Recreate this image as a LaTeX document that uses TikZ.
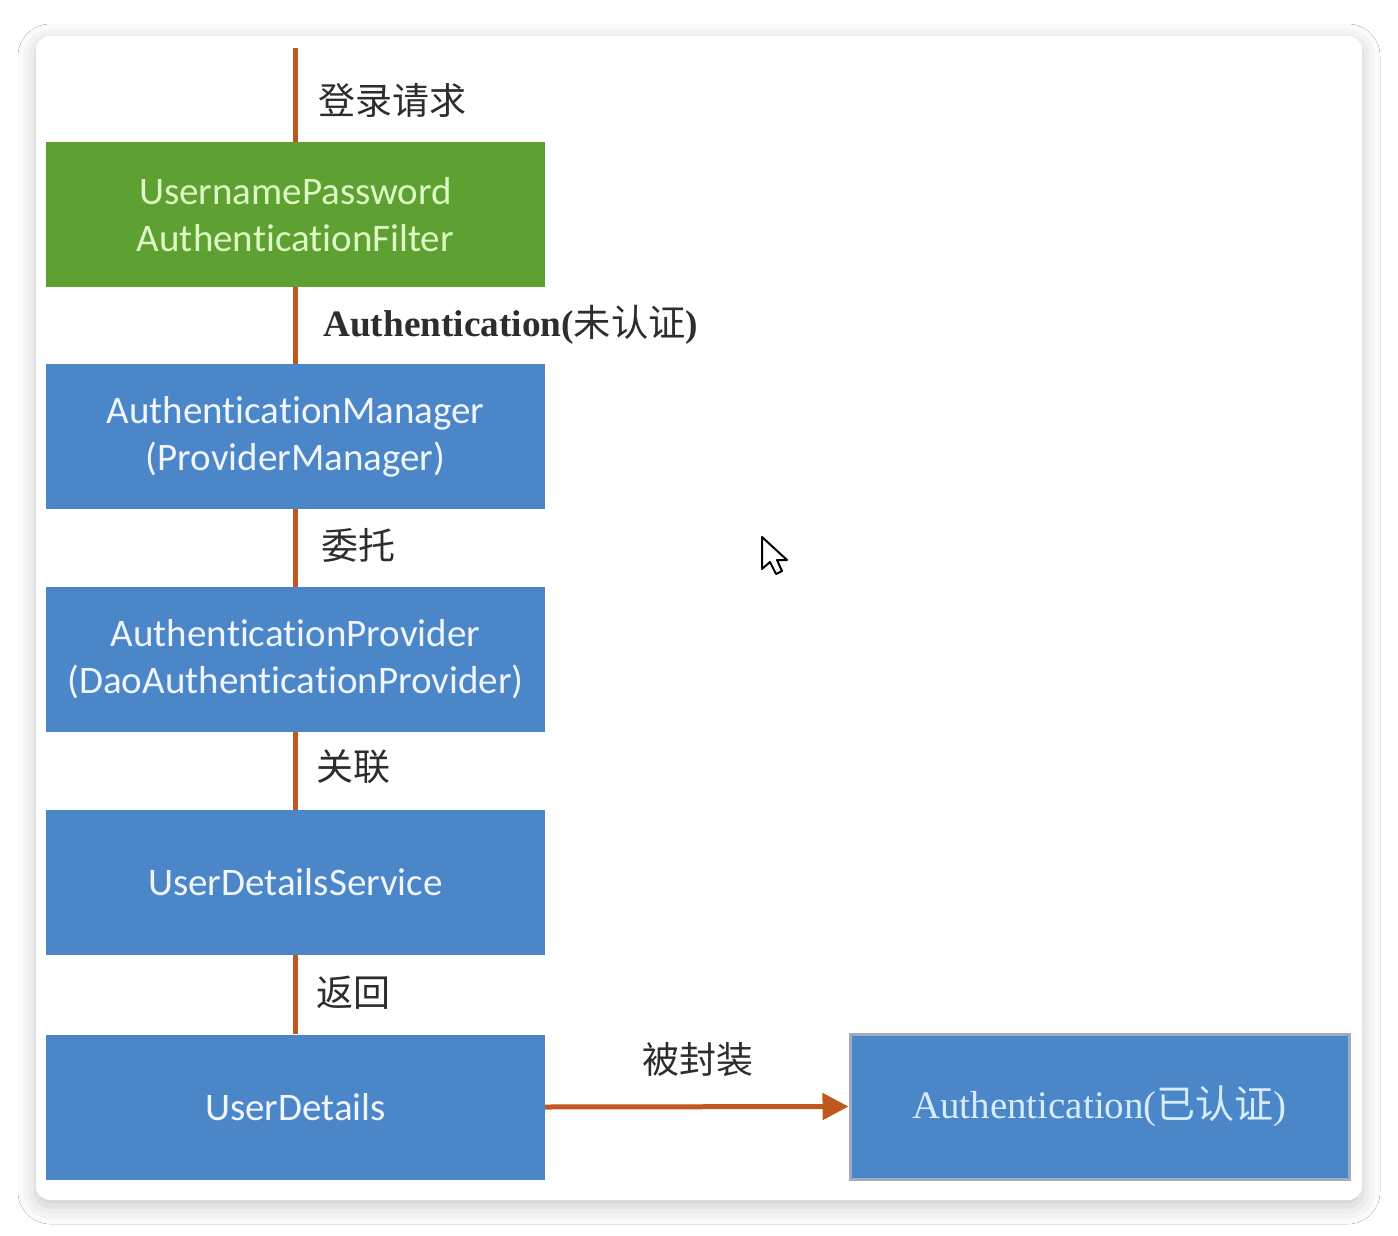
\documentclass[tikz,border=0pt]{standalone}
\usepackage{fontspec}
\setmainfont{Liberation Serif}
\newfontfamily\calfont[Ligatures=NoCommon]{Carlito}
\newfontfamily\cjk{Noto Sans CJK SC}
\usetikzlibrary{arrows.meta,shadows.blur}
\definecolor{flowline}{RGB}{192,87,31}
\definecolor{greenbox}{RGB}{94,160,50}
\definecolor{greentext}{RGB}{222,250,196}
\definecolor{bluebox}{RGB}{74,134,200}
\definecolor{bluetext}{RGB}{240,245,255}
\definecolor{paletext}{RGB}{214,236,255}
\definecolor{labeltext}{RGB}{45,45,45}
\definecolor{rimgray}{RGB}{160,170,186}
\begin{document}
\begin{tikzpicture}[x=1pt,y=-1pt,
  flowbox/.style={rectangle, minimum width=499pt, minimum height=145pt, inner sep=0pt,
    fill=bluebox, text=bluetext, font=\calfont\fontsize{39}{47}\selectfont, align=center},
  greenstep/.style={flowbox, fill=greenbox, text=greentext},
  resultbox/.style={rectangle, minimum width=499pt, minimum height=145pt, inner sep=0pt,
    fill=bluebox, draw=rimgray, line width=3pt, text=paletext,
    font=\fontsize{39}{46}\selectfont},
  flow/.style={draw=flowline, line width=5pt},
  lbl/.style={text=labeltext, inner sep=0pt, font=\cjk\fontsize{37}{44}\selectfont},
  lblbold/.style={text=labeltext, inner sep=0pt, font=\bfseries\fontsize{37.3}{44}\selectfont}
]
\useasboundingbox (0,0) rectangle (1398,1236);
\fill[white] (0,0) rectangle (1398,1236);
% card
\fill[white, rounded corners=14pt,
  blur shadow={shadow xshift=0pt, shadow yshift=-6pt, shadow blur radius=18pt, shadow opacity=22}]
  (36,36) rectangle (1362,1200);

% boxes
\node[greenstep] (filter) at (295.5,214.5) {UsernamePassword\\AuthenticationFilter};
\node[flowbox] (manager) at (295.5,436.5) {AuthenticationManager\\(ProviderManager)};
\node[flowbox] (provider) at (295.5,659.5) {AuthenticationProvider\\(DaoAuthenticationProvider)};
\node[flowbox] (service) at (295.5,882.5) {UserDetailsService};
\node[flowbox] (details) at (295.5,1107) {UserDetails};
\node[resultbox] (auth) at (1099.5,1106.5) {Authentication({\cjk 已认证})};

% connectors
\coordinate (start) at (295.5,48);
\draw[flow] (start) -- (filter.north);
\draw[flow] (filter.south) -- (manager.north);
\draw[flow] (manager.south) -- (provider.north);
\draw[flow] (provider.south) -- (service.north);
\draw[flow] (service.south) -- (details.north);
\draw[flow, -{Triangle[length=26pt,width=26pt]}] (details.east) -- (auth.west);

% labels
\node[lbl, anchor=west] (l1) at (318,100) {登录请求};
\node[lblbold, anchor=west] (l2) at (323,325) {Authentication({\cjk\mdseries 未认证})};
\node[lbl, anchor=west] (l3) at (321,545) {委托};
\node[lbl, anchor=west] (l4) at (316,767) {关联};
\node[lbl, anchor=west] (l5) at (316,993) {返回};
\node[lbl] (l6) at (698,1060) {被封装};

% mouse cursor
\draw[fill=white, draw=black, line width=2pt, line join=round]
  (762,537) -- (762,569) -- (770,562) -- (776,574) -- (782,571) -- (777,560) -- (787,560) -- cycle;
\end{tikzpicture}
\end{document}
